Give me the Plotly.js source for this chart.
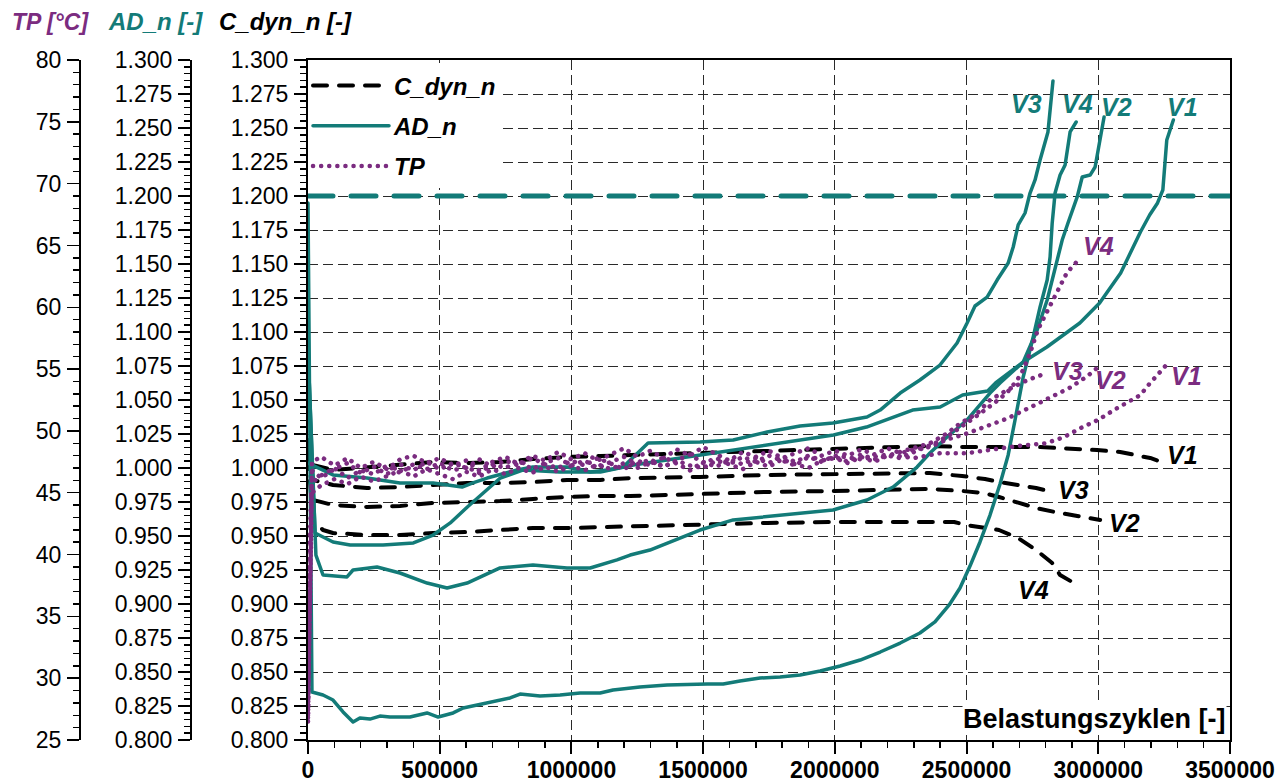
<!DOCTYPE html>
<html>
<head>
<meta charset="utf-8">
<script src="https://cdn.plot.ly/plotly-3.0.1.min.js"></script>
<style>
  html, body { margin: 0; padding: 0; background: #ffffff; }
  #chart { width: 1288px; height: 783px; }
  /* rounded caps turn the short dash segments into round dots */
  .js-line { stroke-linecap: round !important; stroke-linejoin: round !important; }
</style>
</head>
<body>
<div id="chart"></div>
<script>
// ---------- AD_n (normalised, teal) ----------
const adV1X = [0, 27000, 95000, 160000, 285000, 400000, 475000, 540000, 605000, 665000, 730000, 815000, 955000, 1110000, 1235000, 1490000, 1745000, 1995000, 2120000, 2250000, 2295000, 2400000, 2485000, 2580000, 2610000, 2715000, 2805000, 2930000, 3005000, 3085000, 3160000, 3195000, 3225000, 3245000, 3260000, 3285000];
const adV1Y = [1.0868, 0.9522, 0.9456, 0.9434, 0.9434, 0.9449, 0.9507, 0.9596, 0.9713, 0.9816, 0.9926, 0.9985, 0.9971, 0.9971, 1.0022, 1.0096, 1.0169, 1.0243, 1.0301, 1.0390, 1.0426, 1.0449, 1.0537, 1.0566, 1.0625, 1.0779, 1.0890, 1.1066, 1.1213, 1.1434, 1.1735, 1.1860, 1.1949, 1.2044, 1.2412, 1.2559];

const adV2X = [0, 30000, 57000, 148000, 171000, 262000, 349000, 452000, 528000, 604000, 729000, 854000, 983000, 1071000, 1173000, 1223000, 1298000, 1488000, 1614000, 1803000, 1993000, 2122000, 2221000, 2312000, 2361000, 2426000, 2502000, 2589000, 2627000, 2715000, 2768000, 2806000, 2836000, 2863000, 2885000, 2920000, 2939000, 2969000, 2988000, 3007000, 3022000];
const adV2Y = [1.0868, 0.9360, 0.9213, 0.9199, 0.9250, 0.9272, 0.9228, 0.9154, 0.9118, 0.9154, 0.9265, 0.9287, 0.9265, 0.9265, 0.9324, 0.9360, 0.9397, 0.9544, 0.9618, 0.9654, 0.9691, 0.9765, 0.9860, 1.0007, 1.0110, 1.0228, 1.0353, 1.0551, 1.0625, 1.0779, 1.1015, 1.1235, 1.1456, 1.1676, 1.1801, 1.1993, 1.2140, 1.2154, 1.2213, 1.2412, 1.2581];

const adV3X = [0, 95000, 224000, 349000, 475000, 585000, 626000, 680000, 793000, 854000, 983000, 1071000, 1135000, 1196000, 1291000, 1488000, 1614000, 1743000, 1868000, 1993000, 2122000, 2172000, 2248000, 2323000, 2399000, 2464000, 2502000, 2532000, 2578000, 2616000, 2658000, 2677000, 2696000, 2722000, 2741000, 2760000, 2779000, 2809000, 2828000];
const adV3Y = [1.0037, 0.9949, 0.9926, 0.9890, 0.9890, 0.9860, 0.9890, 0.9926, 0.9985, 1.0007, 1.0007, 0.9971, 0.9985, 1.0007, 1.0184, 1.0191, 1.0206, 1.0265, 1.0309, 1.0331, 1.0375, 1.0426, 1.0551, 1.0647, 1.0757, 1.0919, 1.1066, 1.1191, 1.1257, 1.1382, 1.1507, 1.1625, 1.1787, 1.1875, 1.2022, 1.2118, 1.2265, 1.2471, 1.2846];

const adV4X = [0, 15000, 57000, 95000, 133000, 171000, 197000, 235000, 273000, 311000, 387000, 452000, 494000, 551000, 589000, 642000, 691000, 767000, 805000, 881000, 957000, 1033000, 1109000, 1158000, 1260000, 1363000, 1515000, 1576000, 1640000, 1716000, 1792000, 1868000, 1944000, 2020000, 2096000, 2172000, 2248000, 2323000, 2380000, 2434000, 2475000, 2513000, 2551000, 2589000, 2627000, 2658000, 2684000, 2715000, 2753000, 2779000, 2806000, 2817000, 2825000, 2836000, 2855000, 2874000, 2893000, 2916000];
const adV4Y = [1.1949, 0.8353, 0.8331, 0.8294, 0.8206, 0.8132, 0.8162, 0.8154, 0.8176, 0.8169, 0.8169, 0.8199, 0.8169, 0.8199, 0.8235, 0.8257, 0.8279, 0.8309, 0.8338, 0.8324, 0.8331, 0.8346, 0.8346, 0.8368, 0.8390, 0.8404, 0.8412, 0.8412, 0.8434, 0.8456, 0.8463, 0.8478, 0.8507, 0.8544, 0.8588, 0.8647, 0.8713, 0.8787, 0.8868, 0.8993, 0.9118, 0.9279, 0.9456, 0.9654, 0.9882, 1.0096, 1.0353, 1.0669, 1.0963, 1.1184, 1.1382, 1.1551, 1.1801, 1.2022, 1.2154, 1.2228, 1.2471, 1.2544];

// failure criterion for AD_n
const adLimit = 1.2;

// ---------- C_dyn_n (normalised dynamic stiffness, black) ----------
const cV1X = [0, 19000, 95000, 224000, 349000, 475000, 604000, 729000, 854000, 983000, 1109000, 1363000, 1614000, 1868000, 2122000, 2361000, 2498000, 2779000, 2995000, 3083000, 3159000, 3197000, 3250000];
const cV1Y = [1.0206, 1.0022, 0.9985, 1.0007, 1.0022, 1.0044, 1.0037, 1.0044, 1.0066, 1.0081, 1.0088, 1.0103, 1.0118, 1.0132, 1.0154, 1.0162, 1.0154, 1.0154, 1.0132, 1.0118, 1.0088, 1.0074, 1.0037];

const cV2X = [0, 19000, 95000, 224000, 349000, 475000, 604000, 729000, 854000, 983000, 1109000, 1223000, 1488000, 1743000, 1993000, 2248000, 2361000, 2483000, 2566000, 2623000, 2703000, 2764000, 2836000, 2908000, 3007000];
const cV2Y = [1.0132, 0.9765, 0.9728, 0.9713, 0.9721, 0.9743, 0.9750, 0.9757, 0.9772, 0.9787, 0.9794, 0.9794, 0.9809, 0.9824, 0.9831, 0.9838, 0.9846, 0.9831, 0.9816, 0.9787, 0.9743, 0.9706, 0.9676, 0.9654, 0.9618];

const cV3X = [0, 19000, 95000, 224000, 349000, 475000, 604000, 729000, 854000, 983000, 1109000, 1223000, 1488000, 1743000, 1993000, 2248000, 2361000, 2483000, 2570000, 2623000, 2703000, 2764000, 2825000];
const cV3Y = [1.0169, 0.9912, 0.9875, 0.9853, 0.9860, 0.9875, 0.9890, 0.9890, 0.9897, 0.9912, 0.9912, 0.9926, 0.9934, 0.9949, 0.9956, 0.9963, 0.9963, 0.9941, 0.9919, 0.9897, 0.9875, 0.9853, 0.9824];

const cV4X = [0, 19000, 57000, 95000, 224000, 349000, 475000, 604000, 729000, 854000, 983000, 1109000, 1223000, 1488000, 1743000, 1993000, 2248000, 2453000, 2498000, 2570000, 2623000, 2696000, 2764000, 2825000, 2855000, 2908000];
const cV4Y = [1.0096, 0.9618, 0.9544, 0.9522, 0.9507, 0.9507, 0.9522, 0.9529, 0.9544, 0.9559, 0.9559, 0.9566, 0.9566, 0.9588, 0.9596, 0.9603, 0.9603, 0.9603, 0.9581, 0.9559, 0.9544, 0.9485, 0.9397, 0.9301, 0.9213, 0.9154];

// ---------- TP (temperature, °C, purple) ----------
// sampling cycles of the temperature log during the steady phase
const tpCycles = [50000, 100000, 150000, 200000, 250000, 300000, 350000, 400000, 450000, 500000,
                  550000, 600000, 650000, 700000, 750000, 800000, 850000, 900000, 950000, 1000000,
                  1050000, 1100000, 1150000, 1200000, 1250000, 1300000, 1350000, 1400000, 1450000, 1500000,
                  1550000, 1600000, 1650000, 1700000, 1750000, 1800000, 1850000, 1900000, 1950000, 2000000,
                  2050000, 2100000, 2150000, 2200000, 2250000, 2300000];

const tpV1X = [0, 8000, 15000].concat(tpCycles.slice(0, 40), [2100000, 2200000, 2300000, 2400000, 2500000, 2600000, 2700000, 2800000, 2870000, 2930000, 3000000, 3060000, 3110000, 3160000, 3190000, 3230000, 3265000]);
const tpV1Y = [26.5, 40.0, 45.8,
  46.4, 47.0, 46.2, 46.8, 46.5, 47.2, 46.6, 47.3, 46.9, 47.4,
  46.8, 47.1, 46.6, 47.3, 47.0, 47.6, 46.9, 47.4, 47.8, 47.2,
  47.6, 47.0, 47.5, 47.9, 47.3, 47.7, 47.1, 47.6, 48.1, 47.4,
  47.8, 47.3, 47.9, 47.5, 48.0, 47.6, 47.2, 47.9, 47.5, 48.0,
  47.7, 48.1, 47.8, 48.2, 48.2, 48.5, 48.8, 49.0,
  49.5, 50.2, 50.9, 51.7, 52.3, 52.9, 53.7, 54.6, 55.5];

const tpV2X = [0, 8000, 15000].concat(tpCycles, [2361000, 2426000, 2502000, 2570000, 2654000, 2741000, 2817000, 2893000, 2957000, 3007000]);
const tpV2Y = [27.0, 41.0, 47.5,
  47.9, 47.2, 47.8, 47.0, 47.5, 46.9, 47.7, 48.0, 47.4, 47.8,
  47.2, 47.6, 46.8, 47.5, 47.9, 47.3, 48.0, 47.6, 48.3, 47.7,
  48.2, 47.6, 48.1, 48.6, 47.9, 48.4, 47.8, 48.5, 48.0, 48.7,
  48.1, 47.6, 48.3, 47.9, 48.4, 47.8, 48.2, 48.6, 48.0, 48.4,
  48.0, 48.5, 48.1, 48.6, 48.2, 48.5,
  48.7, 49.3, 49.8, 50.3, 51.0, 51.9, 52.7, 53.5, 54.4, 55.3];

const tpV3X = [0, 8000, 15000].concat(tpCycles.slice(0, 45), [2285000, 2361000, 2426000, 2475000, 2540000, 2589000, 2654000, 2730000, 2806000]);
const tpV3Y = [26.8, 38.0, 45.0,
  45.6, 46.1, 45.7, 46.3, 45.9, 46.4, 46.8, 46.3, 46.9, 46.5,
  46.1, 46.7, 46.3, 46.9, 46.5, 47.0, 46.6, 47.1, 46.7, 47.2,
  46.8, 47.3, 46.9, 47.4, 47.0, 47.5, 47.1, 47.6, 47.2, 47.0,
  47.6, 47.3, 46.9, 47.5, 47.1, 47.7, 47.3, 47.0, 47.6, 47.8,
  47.4, 47.9, 47.5, 48.0, 48.3,
  48.5, 49.0, 49.8, 50.6, 51.4, 52.5, 53.3, 54.1, 54.7];

const tpV4X = [0, 8000, 15000].concat(tpCycles.slice(0, 44), [2247000, 2323000, 2380000, 2437000, 2494000, 2551000, 2608000, 2654000, 2692000, 2714000, 2741000, 2752000, 2771000, 2790000, 2809000, 2828000, 2855000, 2881000, 2919000]);
const tpV4Y = [27.2, 42.0, 46.8,
  46.2, 46.9, 47.4, 46.6, 47.1, 46.5, 47.3, 46.8, 47.5, 46.9,
  47.4, 47.0, 47.7, 47.1, 47.6, 47.2, 47.8, 47.3, 47.0, 47.6,
  47.2, 47.8, 47.3, 46.9, 47.6, 47.2, 47.9, 47.4, 46.8, 47.5,
  47.1, 47.7, 47.3, 47.8, 47.4, 47.9, 47.5, 48.0, 47.6, 47.9,
  47.5, 48.1, 47.7, 48.0,
  47.8, 48.5, 49.0, 49.7, 50.5, 51.4, 52.3, 53.1, 54.1, 54.9, 56.3, 57.1, 58.2, 59.0, 59.8, 60.6, 61.6, 62.8, 63.7];

// axis ranges
const xRange = [0, 3500000];
const normRange = [0.8, 1.3];
const tpRange = [25, 80];

// ---------- styling ----------
const TEAL = '#137b78';
const PURPLE = '#7b2c80';
const BLACK = '#000000';
const FONT = 'Liberation Sans, Arial, Helvetica, sans-serif';

const cSeries = [[cV1X, cV1Y], [cV2X, cV2Y], [cV3X, cV3Y], [cV4X, cV4Y]];
const adSeries = [[adV1X, adV1Y], [adV2X, adV2Y], [adV3X, adV3Y], [adV4X, adV4Y]];
const tpSeries = [[tpV1X, tpV1Y], [tpV2X, tpV2Y], [tpV3X, tpV3Y], [tpV4X, tpV4Y]];

const traces = [];
cSeries.forEach((s, i) => traces.push({
  x: s[0], y: s[1], yaxis: 'y', type: 'scatter', mode: 'lines',
  name: 'C_dyn_n', legendgroup: 'c', showlegend: i === 0,
  line: { color: BLACK, width: 4, dash: '14px,12px' }, hoverinfo: 'skip'
}));
adSeries.forEach((s, i) => traces.push({
  x: s[0], y: s[1], yaxis: 'y2', type: 'scatter', mode: 'lines',
  name: 'AD_n', legendgroup: 'ad', showlegend: i === 0,
  line: { color: TEAL, width: 3.5 }, hoverinfo: 'skip'
}));
traces.push({
  x: xRange, y: [adLimit, adLimit], yaxis: 'y2', type: 'scatter', mode: 'lines',
  legendgroup: 'ad', showlegend: false,
  line: { color: TEAL, width: 5, dash: '25px,18px' }, hoverinfo: 'skip'
});
tpSeries.forEach((s, i) => traces.push({
  x: s[0], y: s[1], yaxis: 'y3', type: 'scatter', mode: 'lines',
  name: 'TP', legendgroup: 'tp', showlegend: i === 0,
  line: { color: PURPLE, width: 4.5, dash: '0.1px,8px' }, hoverinfo: 'skip'
}));

// paper geometry: left margin 10px, plot area 308..1230 px
const DOM0 = (308 - 10) / 1220;
const POS_AD = (191 - 10) / 1220;
const POS_TP = (80 - 10) / 1220;

const tickCommon = {
  ticks: 'outside', ticklen: 12, tickwidth: 1.5, tickcolor: BLACK,
  showline: true, linecolor: BLACK, linewidth: 2, zeroline: false,
  tickfont: { family: FONT, size: 23, color: BLACK },
  ticklabelstandoff: 1, automargin: false, fixedrange: true
};

const labelFont = (c, s) => ({ family: FONT, size: s, color: c, weight: 'bold', style: 'italic' });
const ann = (text, x, y, color) => ({
  text, x, y, xref: 'x', yref: 'y', showarrow: false,
  xanchor: 'center', yanchor: 'middle', font: labelFont(color, 25)
});

const layout = {
  width: 1288, height: 783,
  margin: { l: 10, r: 58, t: 60, b: 43, pad: 0 },
  paper_bgcolor: '#ffffff', plot_bgcolor: '#ffffff',
  font: { family: FONT, color: BLACK },
  showlegend: true,
  legend: {
    x: DOM0, xanchor: 'left', y: 0.995, yanchor: 'top',
    bgcolor: '#ffffff', borderwidth: 0,
    font: labelFont(BLACK, 24),
    itemwidth: 76, traceorder: 'grouped', tracegroupgap: 6
  },
  xaxis: Object.assign({}, tickCommon, {
    domain: [DOM0, 1], range: xRange, tick0: 0, dtick: 500000, tickformat: 'd',
    mirror: true, tickwidth: 2, ticklabelstandoff: -4,
    minor: { ticks: 'outside', dtick: 100000, ticklen: 6, tickwidth: 1.5, tickcolor: BLACK, showgrid: false },
    showgrid: true, gridcolor: '#2a2a2a', gridwidth: 1, griddash: '10px,5px',
    tickfont: { family: FONT, size: 23, color: BLACK, weight: 'bold' }
  }),
  yaxis: Object.assign({}, tickCommon, {
    range: normRange, tick0: 0.8, dtick: 0.025, tickformat: '.3f', mirror: true,
    minor: { ticks: 'outside', dtick: 0.005, ticklen: 6, tickwidth: 1.5, tickcolor: BLACK, showgrid: false },
    showgrid: true, gridcolor: '#2a2a2a', gridwidth: 1, griddash: '10px,5px'
  }),
  yaxis2: Object.assign({}, tickCommon, {
    overlaying: 'y', anchor: 'free', position: POS_AD, side: 'left',
    range: normRange, tick0: 0.8, dtick: 0.025, tickformat: '.3f', showgrid: false,
    minor: { ticks: 'outside', dtick: 0.005, ticklen: 6, tickwidth: 1.5, tickcolor: BLACK, showgrid: false }
  }),
  yaxis3: Object.assign({}, tickCommon, {
    overlaying: 'y', anchor: 'free', position: POS_TP, side: 'left',
    range: tpRange, tick0: 25, dtick: 5, tickformat: 'd', showgrid: false,
    minor: { ticks: 'outside', dtick: 1, ticklen: 6, tickwidth: 1.5, tickcolor: BLACK, showgrid: false }
  }),
  annotations: [
    // axis titles across the top
    { text: 'TP [°C]', xref: 'paper', yref: 'paper', x: 0, y: (740 - 22) / 680, xanchor: 'left', yanchor: 'middle', showarrow: false, font: labelFont(PURPLE, 23) },
    { text: 'AD_n [-]', xref: 'paper', yref: 'paper', x: (106 - 10) / 1220, y: (740 - 22) / 680, xanchor: 'left', yanchor: 'middle', showarrow: false, font: labelFont(TEAL, 24) },
    { text: 'C_dyn_n [-]', xref: 'paper', yref: 'paper', x: (217 - 10) / 1220, y: (740 - 22) / 680, xanchor: 'left', yanchor: 'middle', showarrow: false, font: labelFont(BLACK, 24) },
    // x-axis title inside the plot, bottom right
    { text: 'Belastungszyklen [-]', xref: 'paper', yref: 'paper', x: (1227 - 10) / 1220, y: (740 - 719) / 680, xanchor: 'right', yanchor: 'middle', showarrow: false, bgcolor: '#ffffff', borderpad: 0, font: { family: FONT, size: 27, color: BLACK, weight: 'bold' } },
    // specimen labels, AD_n
    ann('V3', 2725900, 1.2676, TEAL),
    ann('V4', 2919500, 1.2676, TEAL),
    ann('V2', 3067600, 1.2654, TEAL),
    ann('V1', 3318200, 1.2654, TEAL),
    // specimen labels, TP
    ann('V4', 2999200, 1.1632, PURPLE),
    ann('V3', 2881500, 1.0713, PURPLE),
    ann('V2', 3044800, 1.0647, PURPLE),
    ann('V1', 3333300, 1.0676, PURPLE),
    // specimen labels, C_dyn_n
    ann('V1', 3318200, 1.0096, BLACK),
    ann('V3', 2904300, 0.9838, BLACK),
    ann('V2', 3097900, 0.9596, BLACK),
    ann('V4', 2752500, 0.9103, BLACK)
  ]
};

Plotly.newPlot('chart', traces, layout, { staticPlot: true, displayModeBar: false });
</script>
</body>
</html>
